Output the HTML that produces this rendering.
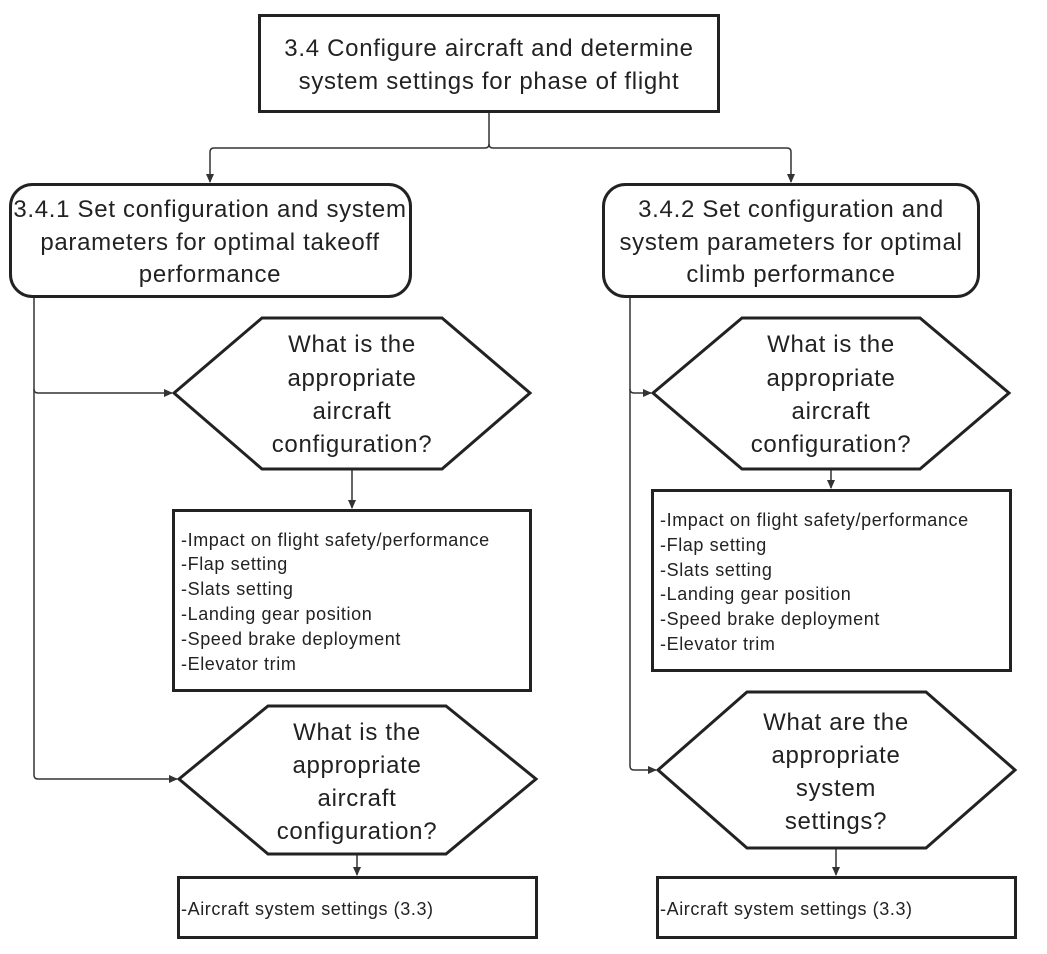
<!DOCTYPE html>
<html><head><meta charset="utf-8"><style>
html,body{margin:0;padding:0;background:#fff;}
svg{display:block;}
text{font-family:"Liberation Sans","DejaVu Sans",sans-serif;fill:#222;}
.t{font-size:24px;text-anchor:middle;letter-spacing:0.7px;}
.l{font-size:18px;letter-spacing:0.6px;}
.s{fill:#fff;stroke:#222;stroke-width:3;}
.c{fill:none;stroke:#333;stroke-width:1.5;}
</style></head><body>
<svg width="1047" height="954" viewBox="0 0 1047 954">
<defs><marker id="a" markerWidth="10" markerHeight="10" refX="8" refY="5" orient="auto" markerUnits="userSpaceOnUse"><path d="M0,1 L9,5 L0,9 z" fill="#333"/></marker></defs>

<path class="c" d="M489,112 V144 Q489,148 485,148 H214 Q210,148 210,152 V182" marker-end="url(#a)"/>
<path class="c" d="M489,144 Q489,148 493,148 H787 Q791,148 791,152 V182" marker-end="url(#a)"/>
<path class="c" d="M34,297 V389 Q34,393 38,393 H172" marker-end="url(#a)"/>
<path class="c" d="M34,389 V775 Q34,779 38,779 H177" marker-end="url(#a)"/>
<path class="c" d="M630,297 V389 Q630,393 634,393 H651" marker-end="url(#a)"/>
<path class="c" d="M630,389 V766 Q630,770 634,770 H656" marker-end="url(#a)"/>
<path class="c" d="M352,469 V508" marker-end="url(#a)"/>
<path class="c" d="M357,854 V875" marker-end="url(#a)"/>
<path class="c" d="M831,469 V488" marker-end="url(#a)"/>
<path class="c" d="M836,848 V875" marker-end="url(#a)"/>

<rect class="s" x="259.5" y="15.5" width="459" height="96"/>
<text class="t" x="489" y="56">3.4 Configure aircraft and determine</text>
<text class="t" x="489" y="89">system settings for phase of flight</text>

<rect class="s" x="10.5" y="184.5" width="400" height="112" rx="22"/>
<text class="t" x="210" y="217">3.4.1 Set configuration and system</text>
<text class="t" x="210" y="250">parameters for optimal takeoff</text>
<text class="t" x="210" y="282">performance</text>

<rect class="s" x="603.5" y="184.5" width="375" height="112" rx="22"/>
<text class="t" x="791" y="217">3.4.2 Set configuration and</text>
<text class="t" x="791" y="250">system parameters for optimal</text>
<text class="t" x="791" y="282">climb performance</text>

<polygon class="s" points="174,393 262,318 442,318 530,393 442,469 262,469"/>
<text class="t" x="352" y="352">What is the</text>
<text class="t" x="352" y="386">appropriate</text>
<text class="t" x="352" y="419">aircraft</text>
<text class="t" x="352" y="452">configuration?</text>

<rect class="s" x="173.5" y="510.5" width="357" height="180"/>
<text class="l" x="181" y="546">-Impact on flight safety/performance</text>
<text class="l" x="181" y="570">-Flap setting</text>
<text class="l" x="181" y="595">-Slats setting</text>
<text class="l" x="181" y="620">-Landing gear position</text>
<text class="l" x="181" y="645">-Speed brake deployment</text>
<text class="l" x="181" y="670">-Elevator trim</text>

<polygon class="s" points="179,779 268,706 446,706 536,779 446,854 268,854"/>
<text class="t" x="357" y="740">What is the</text>
<text class="t" x="357" y="773">appropriate</text>
<text class="t" x="357" y="806">aircraft</text>
<text class="t" x="357" y="839">configuration?</text>

<rect class="s" x="178.5" y="877.5" width="358" height="60"/>
<text class="l" x="181" y="915">-Aircraft system settings (3.3)</text>

<polygon class="s" points="653,393 742,318 920,318 1009,393 920,469 742,469"/>
<text class="t" x="831" y="352">What is the</text>
<text class="t" x="831" y="386">appropriate</text>
<text class="t" x="831" y="419">aircraft</text>
<text class="t" x="831" y="452">configuration?</text>

<rect class="s" x="652.5" y="490.5" width="358" height="180"/>
<text class="l" x="660" y="526">-Impact on flight safety/performance</text>
<text class="l" x="660" y="551">-Flap setting</text>
<text class="l" x="660" y="576">-Slats setting</text>
<text class="l" x="660" y="600">-Landing gear position</text>
<text class="l" x="660" y="625">-Speed brake deployment</text>
<text class="l" x="660" y="650">-Elevator trim</text>

<polygon class="s" points="658,770 747,692 926,692 1015,770 926,848 747,848"/>
<text class="t" x="836" y="730">What are the</text>
<text class="t" x="836" y="763">appropriate</text>
<text class="t" x="836" y="796">system</text>
<text class="t" x="836" y="829">settings?</text>

<rect class="s" x="657.5" y="877.5" width="358" height="60"/>
<text class="l" x="660" y="915">-Aircraft system settings (3.3)</text>
</svg>
</body></html>
